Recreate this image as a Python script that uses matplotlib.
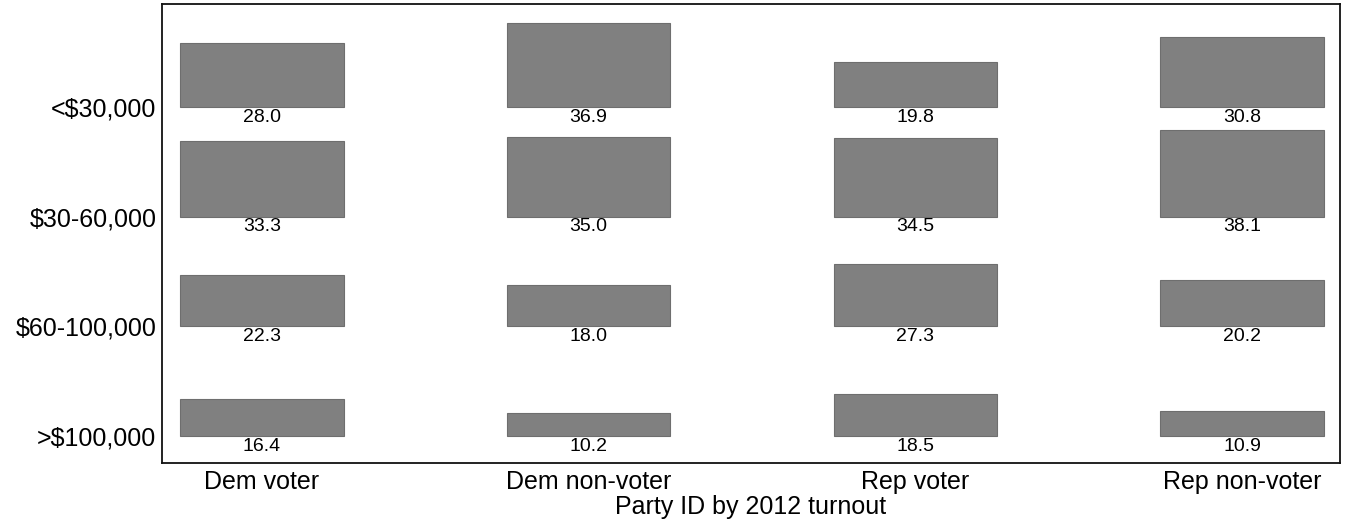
import matplotlib.pyplot as plt
import numpy as np

plt.rcParams['font.family'] = ['Liberation Sans', 'DejaVu Sans']

groups = ['Dem voter', 'Dem non-voter', 'Rep voter', 'Rep non-voter']
incomes = ['<$30,000', '$30-60,000', '$60-100,000', '>$100,000']
# percent of each group in each income band (rows follow incomes order)
dem_voter = [28.0, 33.3, 22.3, 16.4]
dem_nonvoter = [36.9, 35.0, 18.0, 10.2]
rep_voter = [19.8, 34.5, 27.3, 18.5]
rep_nonvoter = [30.8, 38.1, 20.2, 10.9]

series = [dem_voter, dem_nonvoter, rep_voter, rep_nonvoter]
scale = 48.0  # percent per row step

fig = plt.figure(figsize=(13.49, 5.27), dpi=100)
ax = fig.add_axes([0.120, 0.1214, 0.8733, 0.871])

nrows = len(incomes)
for col, vals in enumerate(series):
    for row, v in enumerate(vals):
        base = nrows - 1 - row
        ax.bar(col, v / scale, bottom=base, width=0.5, color='#808080',
               edgecolor='#6e6e6e', linewidth=0.8, align='center')
        ax.text(col, base - 0.015, f'{v:.1f}', ha='center', va='top',
                fontsize=14, color='black')

ax.set_xlim(-0.306, 3.3)
ax.set_ylim(-0.246, 3.939)
ax.set_xticks(range(len(groups)))
ax.set_xticklabels(groups, fontsize=18)
ax.set_yticks([nrows - 1 - i for i in range(nrows)])
ax.set_yticklabels(incomes, fontsize=18)
ax.tick_params(axis='x', length=0, pad=5)
ax.tick_params(axis='y', length=0, pad=4)
ax.set_xlabel('Party ID by 2012 turnout', fontsize=18, labelpad=1)
for s in ax.spines.values():
    s.set_linewidth(1.3)
    s.set_color('#111111')

plt.savefig('out.png', dpi=100)
